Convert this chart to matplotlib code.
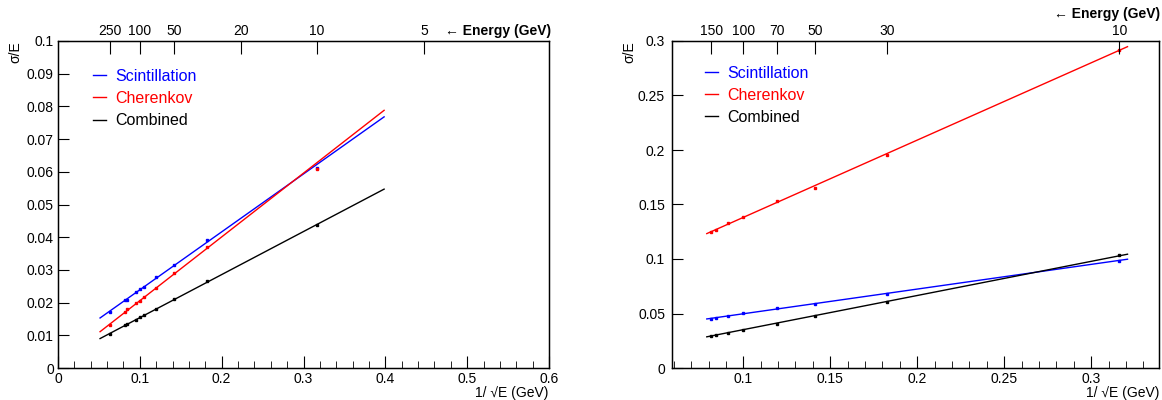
import matplotlib
matplotlib.use("Agg")
import matplotlib.pyplot as plt
import numpy as np
from matplotlib.lines import Line2D
from matplotlib.ticker import MultipleLocator, FormatStrFormatter

plt.rcParams['font.family'] = ['Liberation Sans', 'DejaVu Sans']

# ---- left panel data
E_left = np.array([250, 150, 140, 110, 100, 90, 70, 50, 30, 10])
scint_left = [0.0171, 0.0208, 0.0209, 0.0232, 0.0242, 0.0249, 0.0279, 0.0316, 0.0392, 0.0612]
cher_left = [0.0133, 0.0171, 0.0179, 0.0198, 0.0206, 0.0218, 0.0245, 0.0291, 0.0370, 0.0608]
comb_left = [0.0105, 0.0133, 0.0135, 0.0148, 0.0156, 0.0162, 0.0180, 0.0211, 0.0267, 0.0438]
fitx_left = [0.0514, 0.3985]
fit_scint_left = [0.0153, 0.0768]
fit_cher_left = [0.0111, 0.0788]
fit_comb_left = [0.0090, 0.0547]
top_E_left = [250, 100, 50, 20, 10, 5]

# ---- right panel data
E_right = np.array([150, 140, 120, 100, 70, 50, 30, 10])
scint_right = [0.0453, 0.0460, 0.0478, 0.0502, 0.0548, 0.0587, 0.0682, 0.0986]
cher_right = [0.1245, 0.1263, 0.1327, 0.1385, 0.1531, 0.1650, 0.1954, 0.2915]
comb_right = [0.0292, 0.0301, 0.0323, 0.0350, 0.0405, 0.0478, 0.0603, 0.1035]
fitx_right = [0.079, 0.3209]
fit_scint_right = [0.0450, 0.0998]
fit_cher_right = [0.1233, 0.2948]
fit_comb_right = [0.0286, 0.1044]
top_E_right = [150, 100, 70, 50, 30, 10]

labels = ['Scintillation', 'Cherenkov', 'Combined']
colors = ['#0000ff', '#ff0000', '#000000']

W, H = 1162, 400
fig = plt.figure(figsize=(W / 100, H / 100), dpi=100)


def panel(rect, E, series, fitx, fits, xlim, ylim, xmaj, xmin, ymaj, ymin,
          top_E, leg_xy, ylab_x, elabel_xy, xlab_right, ypad):
    ax = fig.add_axes(rect)
    x = 1.0 / np.sqrt(E)
    for y, f, c in zip(series, fits, colors):
        ax.plot(fitx, f, color=c, lw=1.0, zorder=2)
        ax.plot(x, y, 's', color=c, ms=1.8, zorder=3)
    ax.set_xlim(xlim)
    ax.set_ylim(ylim)
    ax.xaxis.set_major_locator(MultipleLocator(xmaj))
    ax.xaxis.set_minor_locator(MultipleLocator(xmin))
    ax.yaxis.set_major_locator(MultipleLocator(ymaj))
    ax.yaxis.set_minor_locator(MultipleLocator(ymin))
    ax.xaxis.set_major_formatter(FormatStrFormatter('%g'))
    ax.yaxis.set_major_formatter(FormatStrFormatter('%g'))
    ax.tick_params(which='both', direction='in', top=False, right=False, labelsize=10)
    ax.tick_params(axis='x', which='major', length=9, pad=3)
    ax.tick_params(axis='x', which='minor', length=5)
    ax.tick_params(axis='y', which='major', length=8, pad=ypad)
    ax.tick_params(axis='y', which='minor', length=4)
    for s in ax.spines.values():
        s.set_linewidth(1.0)

    ax2 = ax.twiny()
    ax2.set_xlim(xlim)
    ax2.set_xticks(1.0 / np.sqrt(np.array(top_E, dtype=float)))
    ax2.set_xticklabels([str(e) for e in top_E])
    ax2.tick_params(direction='in', length=9, pad=2, labelsize=10)
    ax2.minorticks_off()

    handles = [Line2D([], [], color=c, lw=1.0) for c in colors]
    leg = ax.legend(handles, labels, loc='upper left', bbox_to_anchor=leg_xy,
                    frameon=False, fontsize=11.5, handlelength=0.8,
                    handletextpad=0.6, labelspacing=0.45, borderpad=0,
                    borderaxespad=0)
    for t, c in zip(leg.get_texts(), colors):
        t.set_color(c)

    fig.text(ylab_x / W, 1 - 41 / H, 'σ/E', rotation=90, ha='center', va='top',
             fontsize=10)
    fig.text(elabel_xy[0] / W, 1 - elabel_xy[1] / H, '← Energy (GeV)',
             ha='right', va='center', fontsize=10, fontweight='bold')
    fig.text(xlab_right / W, 1 - 393 / H, '1/ √E (GeV)',
             ha='right', va='center', fontsize=10)
    return ax


panel([58 / W, 32 / H, (549 - 58) / W, 327 / H], E_left,
      [scint_left, cher_left, comb_left], fitx_left,
      [fit_scint_left, fit_cher_left, fit_comb_left],
      (0, 0.6), (0, 0.1), 0.1, 0.02, 0.01, 0.002, top_E_left,
      (0.072, 0.915), 15, (551, 31), 548, 3)

panel([672 / W, 32 / H, (1159 - 672) / W, 327 / H], E_right,
      [scint_right, cher_right, comb_right], fitx_right,
      [fit_scint_right, fit_cher_right, fit_comb_right],
      (0.059, 0.339), (0, 0.3), 0.05, 0.01, 0.05, 0.01, top_E_right,
      (0.068, 0.925), 629, (1160, 14), 1159, 5)

fig.savefig('out.png', dpi=100)
